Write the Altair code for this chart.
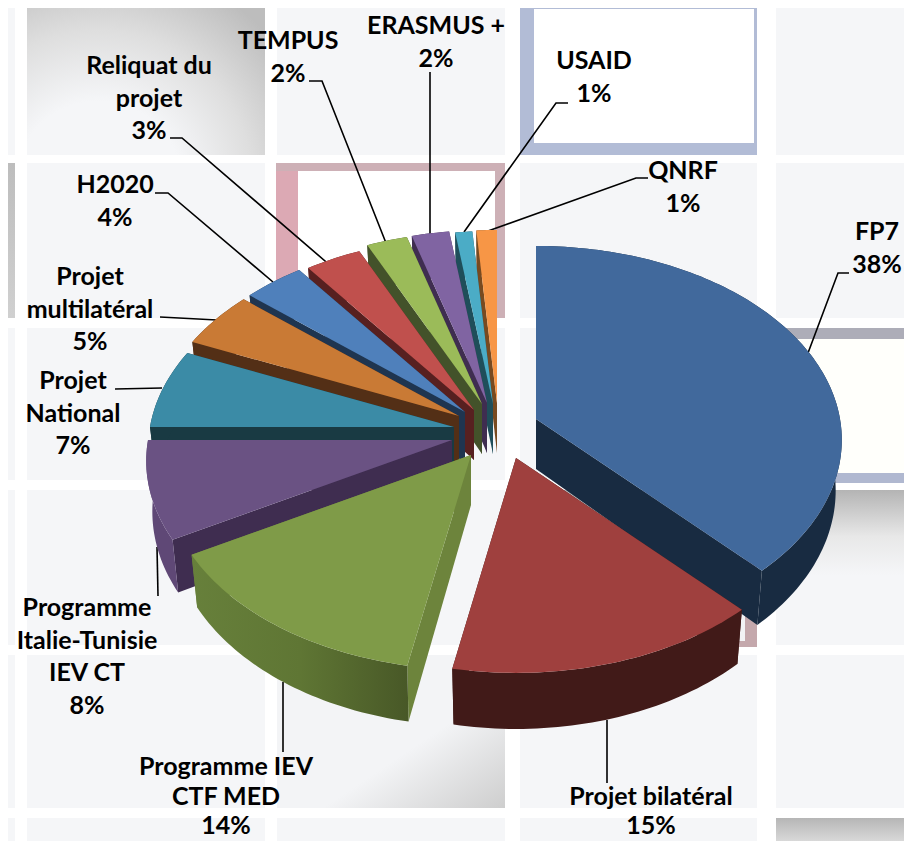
import math
import altair as alt

# ---------- chart values ----------
names = ["FP7", "Projet bilatéral", "Programme IEV CTF MED", "Programme Italie-Tunisie IEV CT",
         "Projet National", "Projet multilatéral", "H2020", "Reliquat du projet",
         "TEMPUS", "ERASMUS +", "USAID", "QNRF"]
shares = [38.0, 15.0, 13.8, 8.2, 6.6, 4.7, 3.6, 3.3, 2.4, 2.2, 1.0, 1.2]
label_texts = ["FP7\n38%", "Projet bilatéral\n15%", "Programme IEV\nCTF MED\n14%",
               "Programme\nItalie-Tunisie\nIEV CT\n8%", "Projet\nNational\n7%",
               "Projet\nmultilatéral\n5%", "H2020\n4%", "Reliquat du\nprojet\n3%",
               "TEMPUS\n2%", "ERASMUS +\n2%", "USAID\n1%", "QNRF\n1%"]

# ---------- styling / layout ----------
top_colors = ["#41699c", "#9f403e", "#7f9b48", "#6a5283", "#3b8ba6", "#c97a35",
              "#4f80bb", "#c0504d", "#9bbb59", "#8064a2", "#4bacc6", "#f79646"]
radial_colors = ["#182b41", "#401a18", "#6d843c", "#3f2d50", "#193a43", "#532f16",
                 "#1f3550", "#572020", "#43522a", "#3f2d50", "#1f4e5a", "#784a20"]
arc_colors = ["#182b41", "#411a18", "#5a7032", "#5f4876", "#193a43", "#532f16",
              "#1f3550", "#572020", "#43522a", "#3f2d50", "#1f4e5a", "#784a20"]
apex_x = [536, 516, 471, 452, 454, 459, 465, 474, 482, 487, 493, 497]
apex_y = [419, 458, 455, 440, 427, 416, 412, 410, 404, 403, 404, 403]
paint_back = [0, 11, 10, 9, 8, 7, 6, 5, 4, 3]
RX, RY, PERSP, DEPTH, SHRINK = 304.0, 191.7, 0.108, 50.0, 0.98

label_x = [877, 651, 226, 87, 73, 90, 115, 149, 288, 436, 594, 683]
label_y = [232, 796.5, 767, 608, 381, 277, 185, 66, 41, 26, 61, 171]
bottom_labels = [1, 2]
leaders = [
    [[849, 273], [838, 273], [808, 353]],
    [[607, 720], [607, 783]],
    [[283, 682], [283, 752]],
    [[157, 547], [158, 596]],
    [[115, 389], [162, 388]],
    [[160, 317], [217, 320]],
    [[155, 193], [168, 193], [273, 282]],
    [[170, 138], [182, 138], [332, 267]],
    [[309, 81], [322, 81], [386, 243]],
    [[430, 72], [430, 235]],
    [[568, 103], [556, 103], [464, 232]],
    [[648, 178], [636, 178], [488, 231]],
]

cols = [(0, 15), (27, 265), (277, 505), (520, 757), (776, 912)]
rows = [(0, 155), (163, 318), (328, 480), (490, 645), (655, 808), (818, 849)]
flat_rects = [
    # pink frame
    (276, 505, 163, 318, "#cdb0b6"), (276, 298, 171, 318, "#dca9b4"), (298, 495, 171, 318, "#ffffff"),
    # blue frame
    (520, 757, 0, 155, "#b2bcd6"), (534, 754, 9, 143, "#ffffff"),
    # right frame
    (776, 912, 328, 339, "#adadb8"), (776, 912, 339, 473, "#fffffb"), (776, 912, 473, 483, "#b0b8d0"),
    # pink edge of the lower tile
    (745, 757, 490, 647, "#c4a8ac"), (520, 757, 641, 647, "#c4a8ac"),
]
linear_rects = [
    (0, 15, 163, 318, 0, 0, 0, 1, [("#bdbdbd", 0), ("#d0d0d0", 1)]),
    (277, 505, 655, 808, 0, 0, 1, 1, [("#f3f4f6", 0), ("#f3f4f6", .6), ("#cecece", 1)]),
    (520, 745, 490, 641, 0, 0, 0, 1, [("#bbbbbb", 0), ("#f2f3f5", .5)]),
    (776, 912, 490, 645, 0, 0, 0, 1, [("#b4b4b4", 0), ("#e8e8e8", .3), ("#f5f6f8", .55)]),
    (776, 912, 818, 849, 0, 0, 0, 1, [("#b6b6b6", 0), ("#e4e4e4", 1)]),
]
FONT = "Lato"
TILE = "#f5f6f8"

# ---------- geometry built from the shares ----------
def feature(coords, fill, kind="Polygon"):
    return {"type": "Feature", "properties": {"fill": fill},
            "geometry": {"type": kind, "coordinates": coords}}

def rect(x0, x1, y0, y1):
    return [[[x0, y0], [x1, y0], [x1, y1], [x0, y1], [x0, y0]]]

def rim(i, deg, low=False):
    t = math.radians(deg)
    u, v = math.sin(t), -math.cos(t)
    w = 1.0 / (1.0 - PERSP * v)
    x, y = RX * u * w, RY * v * w
    if low:
        return [apex_x[i] + x * SHRINK, apex_y[i] + y + DEPTH * w]
    return [apex_x[i] + x, apex_y[i] + y]

def base(i):
    return [apex_x[i], apex_y[i] + DEPTH]

total = sum(shares)
starts, running = [], 0.0
for s in shares:
    starts.append(running)
    running += s / total * 360.0

def slice_parts(i):
    a0, a1 = starts[i], starts[i] + shares[i] / total * 360.0
    n = max(6, int(shares[i] * 3))
    angles = [a0 + (a1 - a0) * k / n for k in range(n + 1)]
    upper = [rim(i, a) for a in angles]
    lower = [rim(i, a, True) for a in angles]
    apex = [apex_x[i], apex_y[i]]
    rad_end = [[apex, upper[-1], lower[-1], base(i), apex]]
    rad_start = [[apex, upper[0], lower[0], base(i), apex]]
    arc = [upper + lower[::-1] + [upper[0]]]
    top = [[apex] + upper + [apex]]
    return rad_end, rad_start, arc, top

def slice_features(i):
    rad_end, rad_start, arc, top = slice_parts(i)
    return [feature(rad_end, radial_colors[i]), feature(rad_start, radial_colors[i]),
            feature(arc, arc_colors[i]), feature(top, top_colors[i])]

proj = dict(type="identity", scale=1, translate=[-8, -8])

def shapes(features):
    return (alt.Chart(alt.Data(values=features))
            .mark_geoshape(strokeWidth=0)
            .encode(color=alt.Color("properties.fill:N", scale=None, legend=None))
            .project(**proj))

def gradient_shape(coords, grad):
    return (alt.Chart(alt.Data(values=[feature(coords, "x")]))
            .mark_geoshape(fill=grad, strokeWidth=0).project(**proj))

layers = []

# background tiles
layers.append(shapes([feature(rect(c[0], c[1], r[0], r[1]), TILE) for c in cols for r in rows]
                     + [feature(rect(*q[:4]), q[4]) for q in flat_rects]))
for x0, x1, y0, y1, gx1, gy1, gx2, gy2, stops in linear_rects:
    grad = alt.Gradient(gradient="linear", x1=gx1, y1=gy1, x2=gx2, y2=gy2,
                        stops=[alt.GradientStop(color=c, offset=o) for c, o in stops])
    layers.append(gradient_shape(rect(x0, x1, y0, y1), grad))
radial_tile = alt.Gradient(gradient="radial", x1=.3, y1=.95, r1=0, x2=.3, y2=.95, r2=1,
                           stops=[alt.GradientStop(color="#f5f6f8", offset=.35),
                                  alt.GradientStop(color="#dedede", offset=.65),
                                  alt.GradientStop(color="#bdbdbd", offset=.95)])
layers.append(gradient_shape(rect(27, 265, 0, 155), radial_tile))

# leader lines
layers.append(alt.Chart(alt.Data(values=[feature(l, "k", "LineString") for l in leaders]))
              .mark_geoshape(filled=False, stroke="#000000", strokeWidth=1.6).project(**proj))

# pie, painted from the back
back = []
for i in paint_back:
    back += slice_features(i)
layers.append(shapes(back))
layers.append(shapes(slice_features(1)))

g_end, g_start, g_arc, g_top = slice_parts(2)
layers.append(shapes([feature(g_end, radial_colors[2]), feature(g_start, radial_colors[2])]))
green_grad = alt.Gradient(gradient="linear", x1=0, y1=0, x2=1, y2=0,
                          stops=[alt.GradientStop(color="#67803b", offset=0),
                                 alt.GradientStop(color="#5f7634", offset=.5),
                                 alt.GradientStop(color="#485827", offset=1)])
layers.append(gradient_shape(g_arc, green_grad))
layers.append(shapes([feature(g_top, top_colors[2])]))

# labels
label_rows = [{"name": n, "text": t, "x": x, "y": y}
              for n, t, x, y in zip(names, label_texts, label_x, label_y)]
upper_rows = [r for k, r in enumerate(label_rows) if k not in bottom_labels]
lower_rows = [r for k, r in enumerate(label_rows) if k in bottom_labels]
for rows_, lh in ((upper_rows, 32.5), (lower_rows, 29.5)):
    layers.append(alt.Chart(alt.Data(values=rows_))
                  .mark_text(font=FONT, fontSize=25, fontWeight="bold", color="#000000",
                             align="center", baseline="middle", lineBreak="\n", lineHeight=lh)
                  .encode(longitude="x:Q", latitude="y:Q", text="text:N")
                  .project(**proj))

chart = (alt.layer(*layers)
         .properties(width=896, height=833, padding=0, background="#ffffff",
                     autosize=alt.AutoSizeParams(type="none"))
         .configure_view(stroke=None))

chart.save("out.html", embed_options={"renderer": "svg", "actions": False})
